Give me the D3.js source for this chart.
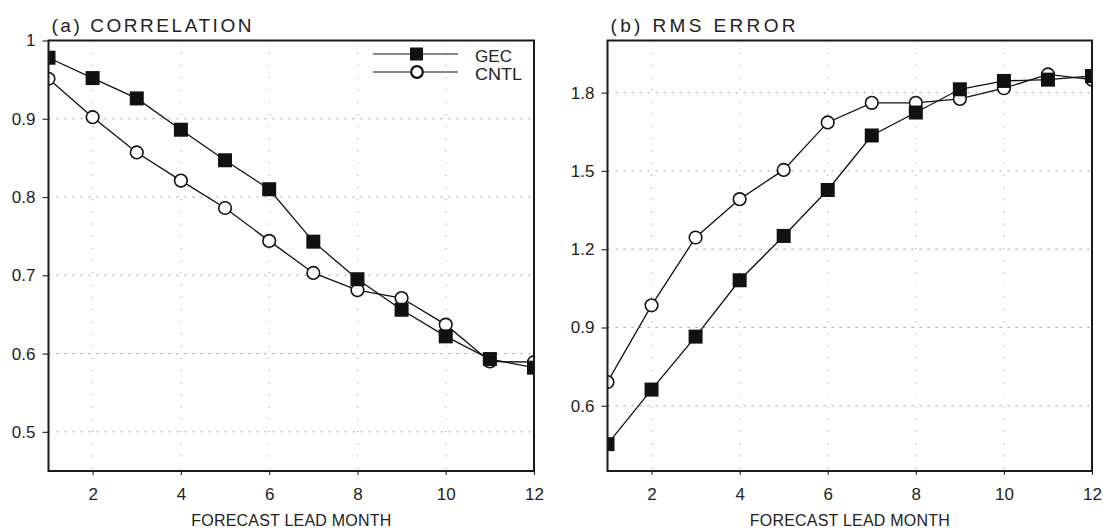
<!DOCTYPE html>
<meta charset="utf-8">
<style>
body { margin: 0; background: #fff; }
text { font-family: "Liberation Sans", Arial, sans-serif; fill: #222; }
.grid line { stroke: #9a9a9a; stroke-width: 1; }
.frame { fill: none; stroke: #1a1a1a; stroke-width: 2; }
.series { fill: none; stroke: #111; stroke-width: 1.3; }
</style>
<body>
<svg width="1103" height="530"></svg>
<script src="https://d3js.org/d3.v7.min.js"></script>
<script>

var months = [1, 2, 3, 4, 5, 6, 7, 8, 9, 10, 11, 12];
var monthTicks = [2, 4, 6, 8, 10, 12];

var corrGEC  = [0.978, 0.952, 0.926, 0.886, 0.847, 0.810, 0.743, 0.695, 0.656, 0.622, 0.593, 0.582];
var corrCNTL = [0.951, 0.902, 0.857, 0.821, 0.786, 0.744, 0.703, 0.681, 0.671, 0.637, 0.590, 0.589];
var corrTicks = [0.5, 0.6, 0.7, 0.8, 0.9, 1];

var rmsGEC  = [0.453, 0.662, 0.865, 1.081, 1.251, 1.427, 1.636, 1.724, 1.813, 1.845, 1.850, 1.864];
var rmsCNTL = [0.691, 0.985, 1.245, 1.392, 1.504, 1.686, 1.761, 1.761, 1.776, 1.817, 1.870, 1.850];
var rmsTicks = [0.6, 0.9, 1.2, 1.5, 1.8];

var svg = d3.select("svg");

var panels = [
  { id: "a", title: "(a) CORRELATION", titleLen: 200, left: 48.5, right: 534,
    domain: [0.45, 1.0], ticks: corrTicks, fmt: d3.format(""), gec: corrGEC, cntl: corrCNTL, legend: true },
  { id: "b", title: "(b) RMS ERROR", titleLen: 185, left: 607.5, right: 1092,
    domain: [0.35, 2.0], ticks: rmsTicks, fmt: d3.format(".1f"), gec: rmsGEC, cntl: rmsCNTL, legend: false }
];
var plotTop = 40.5, plotBottom = 471;

panels.forEach(function(p) {
  var x = d3.scaleLinear().domain([1, 12]).range([p.left, p.right]);
  var y = d3.scaleLinear().domain(p.domain).range([plotBottom, plotTop]);
  var g = svg.append("g");

  // grid
  var grid = g.append("g").attr("class", "grid");
  grid.selectAll(".v").data(monthTicks.filter(function(d) { return d < 12; }))
    .enter().append("line")
      .attr("x1", x).attr("x2", x)
      .attr("y1", plotTop).attr("y2", plotBottom)
      .attr("stroke-dasharray", "1.2,11");
  grid.selectAll(".h").data(p.ticks.filter(function(d) { return d < p.domain[1]; }))
    .enter().append("line")
      .attr("x1", p.left).attr("x2", p.right)
      .attr("y1", y).attr("y2", y)
      .attr("stroke-dasharray", "2,6");

  // axes
  var yAxis = d3.axisLeft(y).tickValues(p.ticks).tickFormat(p.fmt).tickSize(6).tickPadding(7);
  var xAxis = d3.axisBottom(x).tickValues(monthTicks).tickSize(4).tickPadding(13);
  var ya = g.append("g").attr("transform", "translate(" + p.left + ",0)").call(yAxis);
  var xa = g.append("g").attr("transform", "translate(0," + plotBottom + ")").call(xAxis);
  [ya, xa].forEach(function(a) {
    a.select(".domain").remove();
    a.selectAll(".tick line").attr("stroke", "#333").attr("stroke-width", 1.2);
    a.selectAll(".tick text").style("font-size", "17px").attr("fill", "#222");
  });

  // clipped series
  g.append("clipPath").attr("id", "clip-" + p.id)
    .append("rect").attr("x", p.left).attr("y", plotTop)
    .attr("width", p.right - p.left).attr("height", plotBottom - plotTop);
  var plot = g.append("g").attr("clip-path", "url(#clip-" + p.id + ")");

  var line = d3.line().x(function(d, i) { return x(months[i]); }).y(function(d) { return y(d); });

  plot.append("path").attr("class", "series").attr("d", line(p.cntl));
  plot.append("path").attr("class", "series").attr("d", line(p.gec));

  plot.selectAll(".cntl").data(p.cntl).enter().append("circle")
      .attr("cx", function(d, i) { return x(months[i]); })
      .attr("cy", y)
      .attr("r", 6.3)
      .attr("fill", "#fff").attr("stroke", "#111").attr("stroke-width", 1.6);
  plot.selectAll(".gec").data(p.gec).enter().append("rect")
      .attr("x", function(d, i) { return x(months[i]) - 7; })
      .attr("y", function(d) { return y(d) - 7; })
      .attr("width", 14).attr("height", 14)
      .attr("fill", "#111");

  // frame
  g.append("rect").attr("class", "frame")
    .attr("x", p.left).attr("y", plotTop)
    .attr("width", p.right - p.left).attr("height", plotBottom - plotTop);

  // titles
  g.append("text").attr("x", p.left + 3).attr("y", 32)
    .attr("textLength", p.titleLen).attr("lengthAdjust", "spacing")
    .style("font-size", "19px").text(p.title);
  g.append("text").attr("x", (p.left + p.right) / 2).attr("y", 526)
    .attr("text-anchor", "middle")
    .attr("textLength", 200).attr("lengthAdjust", "spacing")
    .style("font-size", "16px").text("FORECAST LEAD MONTH");

  if (p.legend) {
    var lg = g.append("g").attr("transform", "translate(" + (p.right - 161) + ",54)");
    var items = [{ name: "GEC", len: 37 }, { name: "CNTL", len: 47 }];
    items.forEach(function(it, i) {
      var row = lg.append("g").attr("transform", "translate(0," + i * 18 + ")");
      row.append("line").attr("x1", 0).attr("x2", 85).attr("y1", 0).attr("y2", 0)
        .attr("stroke", "#111").attr("stroke-width", 1.2);
      if (i === 0) {
        row.append("rect").attr("x", 37).attr("y", -6.5).attr("width", 13).attr("height", 13).attr("fill", "#111");
      } else {
        row.append("circle").attr("cx", 44).attr("cy", 0).attr("r", 5.8)
          .attr("fill", "#fff").attr("stroke", "#111").attr("stroke-width", 2.2);
      }
      row.append("text").attr("x", 102).attr("y", 8)
        .attr("textLength", it.len).attr("lengthAdjust", "spacingAndGlyphs")
        .style("font-size", "16px").text(it.name);
    });
  }
});

</script>
</body>
